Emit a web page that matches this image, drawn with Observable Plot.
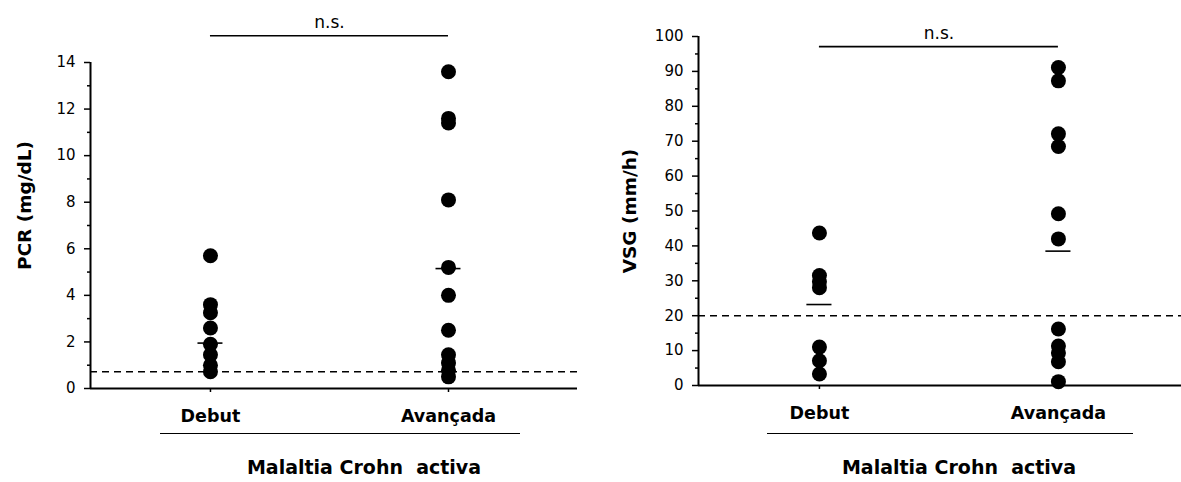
<!DOCTYPE html>
<html><head><meta charset="utf-8">
<script src="https://cdn.jsdelivr.net/npm/d3@7"></script>
<script src="https://cdn.jsdelivr.net/npm/@observablehq/plot@0.6"></script>
<style>
body{margin:0;background:#fff;font-family:"DejaVu Sans",sans-serif}
#wrap{position:relative;width:1181px;height:482px;overflow:hidden;background:#fff}
.panel{position:absolute;top:0}
.bracket{position:absolute;border-top:1.6px solid #000;height:0}
.group{position:absolute;font-weight:bold;font-size:19px;line-height:1;transform:translateX(-50%);white-space:pre;color:#000}
</style></head><body>
<div id="wrap"></div>
<script>
// ---- data ----
const categories = ["Debut", "Avançada"];
const groupLabel = "Malaltia Crohn  activa";
const sigLabel = "n.s.";

const pcrLabel = "PCR (mg/dL)";
const pcrDebut = [5.7, 3.6, 3.25, 2.6, 1.9, 1.45, 1.0, 0.72];
const pcrAvancada = [13.6, 11.6, 11.4, 8.1, 5.2, 4.0, 2.5, 1.45, 1.1, 0.78, 0.5];
const pcrMedians = [1.95, 5.15];
const pcrCutoff = 0.72;
const pcrSig = 15.15;
const pcrMajorTicks = [0, 2, 4, 6, 8, 10, 12, 14];
const pcrMinorTicks = [1, 3, 5, 7, 9, 11, 13];

const vsgLabel = "VSG (mm/h)";
const vsgDebut = [43.7, 31.5, 29.7, 28, 11, 7.1, 3.3];
const vsgAvancada = [91.1, 87.3, 72.1, 68.5, 49.2, 42, 16.2, 11.3, 9.3, 6.8, 1.1];
const vsgMedians = [23.2, 38.5];
const vsgCutoff = 20;
const vsgSig = 97.1;
const vsgMajorTicks = [0, 10, 20, 30, 40, 50, 60, 70, 80, 90, 100];
const vsgMinorTicks = [5, 15, 25, 35, 45, 55, 65, 75, 85, 95];

// ---- drawing ----
function panel(o) {
  const rows = o.series.flatMap((vals, i) => vals.map(v => ({cat: i, value: v})));
  const med = o.medians.map((m, i) => ({cat: i, value: m}));
  const hw = o.medianHalf;
  return Plot.plot({
    width: o.width, height: 482,
    marginLeft: o.ml, marginRight: o.mr, marginTop: o.mt, marginBottom: o.mb,
    x: {domain: o.xDomain},
    y: {domain: o.yDomain},
    style: {fontFamily: "DejaVu Sans", fontSize: "15px", color: "#000", background: "transparent", overflow: "visible"},
    marks: [
      Plot.ruleY([o.cutoff], {stroke: "#000", strokeWidth: 1.5, strokeDasharray: "7,5"}),
      Plot.ruleX([o.xDomain[0]], {stroke: "#000", strokeWidth: 2}),
      Plot.ruleY([o.yDomain[0]], {stroke: "#000", strokeWidth: 2}),
      Plot.axisY(o.minor, {tickSize: 3, tickFormat: () => "", label: null, strokeWidth: 1.5}),
      Plot.axisY(o.major, {tickSize: 6, tickPadding: 9, label: null, strokeWidth: 1.5}),
      Plot.axisX(d3.range(categories.length), {tickSize: 4, tickPadding: 17, tickFormat: i => categories[i], fontWeight: "bold", fontSize: 17.5, label: null, strokeWidth: 1.5}),
      Plot.dot(rows, {x: "cat", y: "value", r: 7.5, fill: "#000", stroke: null}),
      Plot.ruleY(med, {y: "value", x1: d => d.cat - hw, x2: d => d.cat + hw, stroke: "#000", strokeWidth: 1.6}),
      Plot.ruleY([o.sig], {x1: 0, x2: 1, stroke: "#000", strokeWidth: 1.6}),
      Plot.text([sigLabel], {x: 0.5, y: o.sig, dy: -13, fontSize: 17}),
      Plot.text([o.label], {frameAnchor: "left", textAnchor: "middle", dx: o.labelDx, dy: o.labelDy, rotate: -90, fontWeight: "bold", fontSize: 18.5})
    ]
  });
}

const wrap = document.getElementById("wrap");

const left = panel({
  series: [pcrDebut, pcrAvancada], medians: pcrMedians, cutoff: pcrCutoff, sig: pcrSig,
  yDomain: [0, 14], major: pcrMajorTicks, minor: pcrMinorTicks, label: pcrLabel,
  width: 590, ml: 90, mr: 13, mt: 62, mb: 94,
  xDomain: [-0.504, 1.542], medianHalf: 0.0525, labelDx: -65, labelDy: -20
});
const right = panel({
  series: [vsgDebut, vsgAvancada], medians: vsgMedians, cutoff: vsgCutoff, sig: vsgSig,
  yDomain: [0, 100], major: vsgMajorTicks, minor: vsgMinorTicks, label: vsgLabel,
  width: 591, ml: 108, mr: 0, mt: 36, mb: 97,
  xDomain: [-0.506, 1.515], medianHalf: 0.0525, labelDx: -68, labelDy: 0
});

function place(node, x) {
  const d = document.createElement("div");
  d.className = "panel"; d.style.left = x + "px";
  d.appendChild(node); wrap.appendChild(d);
}
place(left, 0);
place(right, 590);

function addGroup(x0, w, cx) {
  const b = document.createElement("div");
  b.className = "bracket"; b.style.left = x0 + "px"; b.style.width = w + "px"; b.style.top = "433px";
  wrap.appendChild(b);
  const t = document.createElement("div");
  t.className = "group"; t.textContent = groupLabel; t.style.left = cx + "px"; t.style.top = "458px";
  wrap.appendChild(t);
}
addGroup(160, 360, 364);
addGroup(767, 366, 959);
</script>
</body></html>
